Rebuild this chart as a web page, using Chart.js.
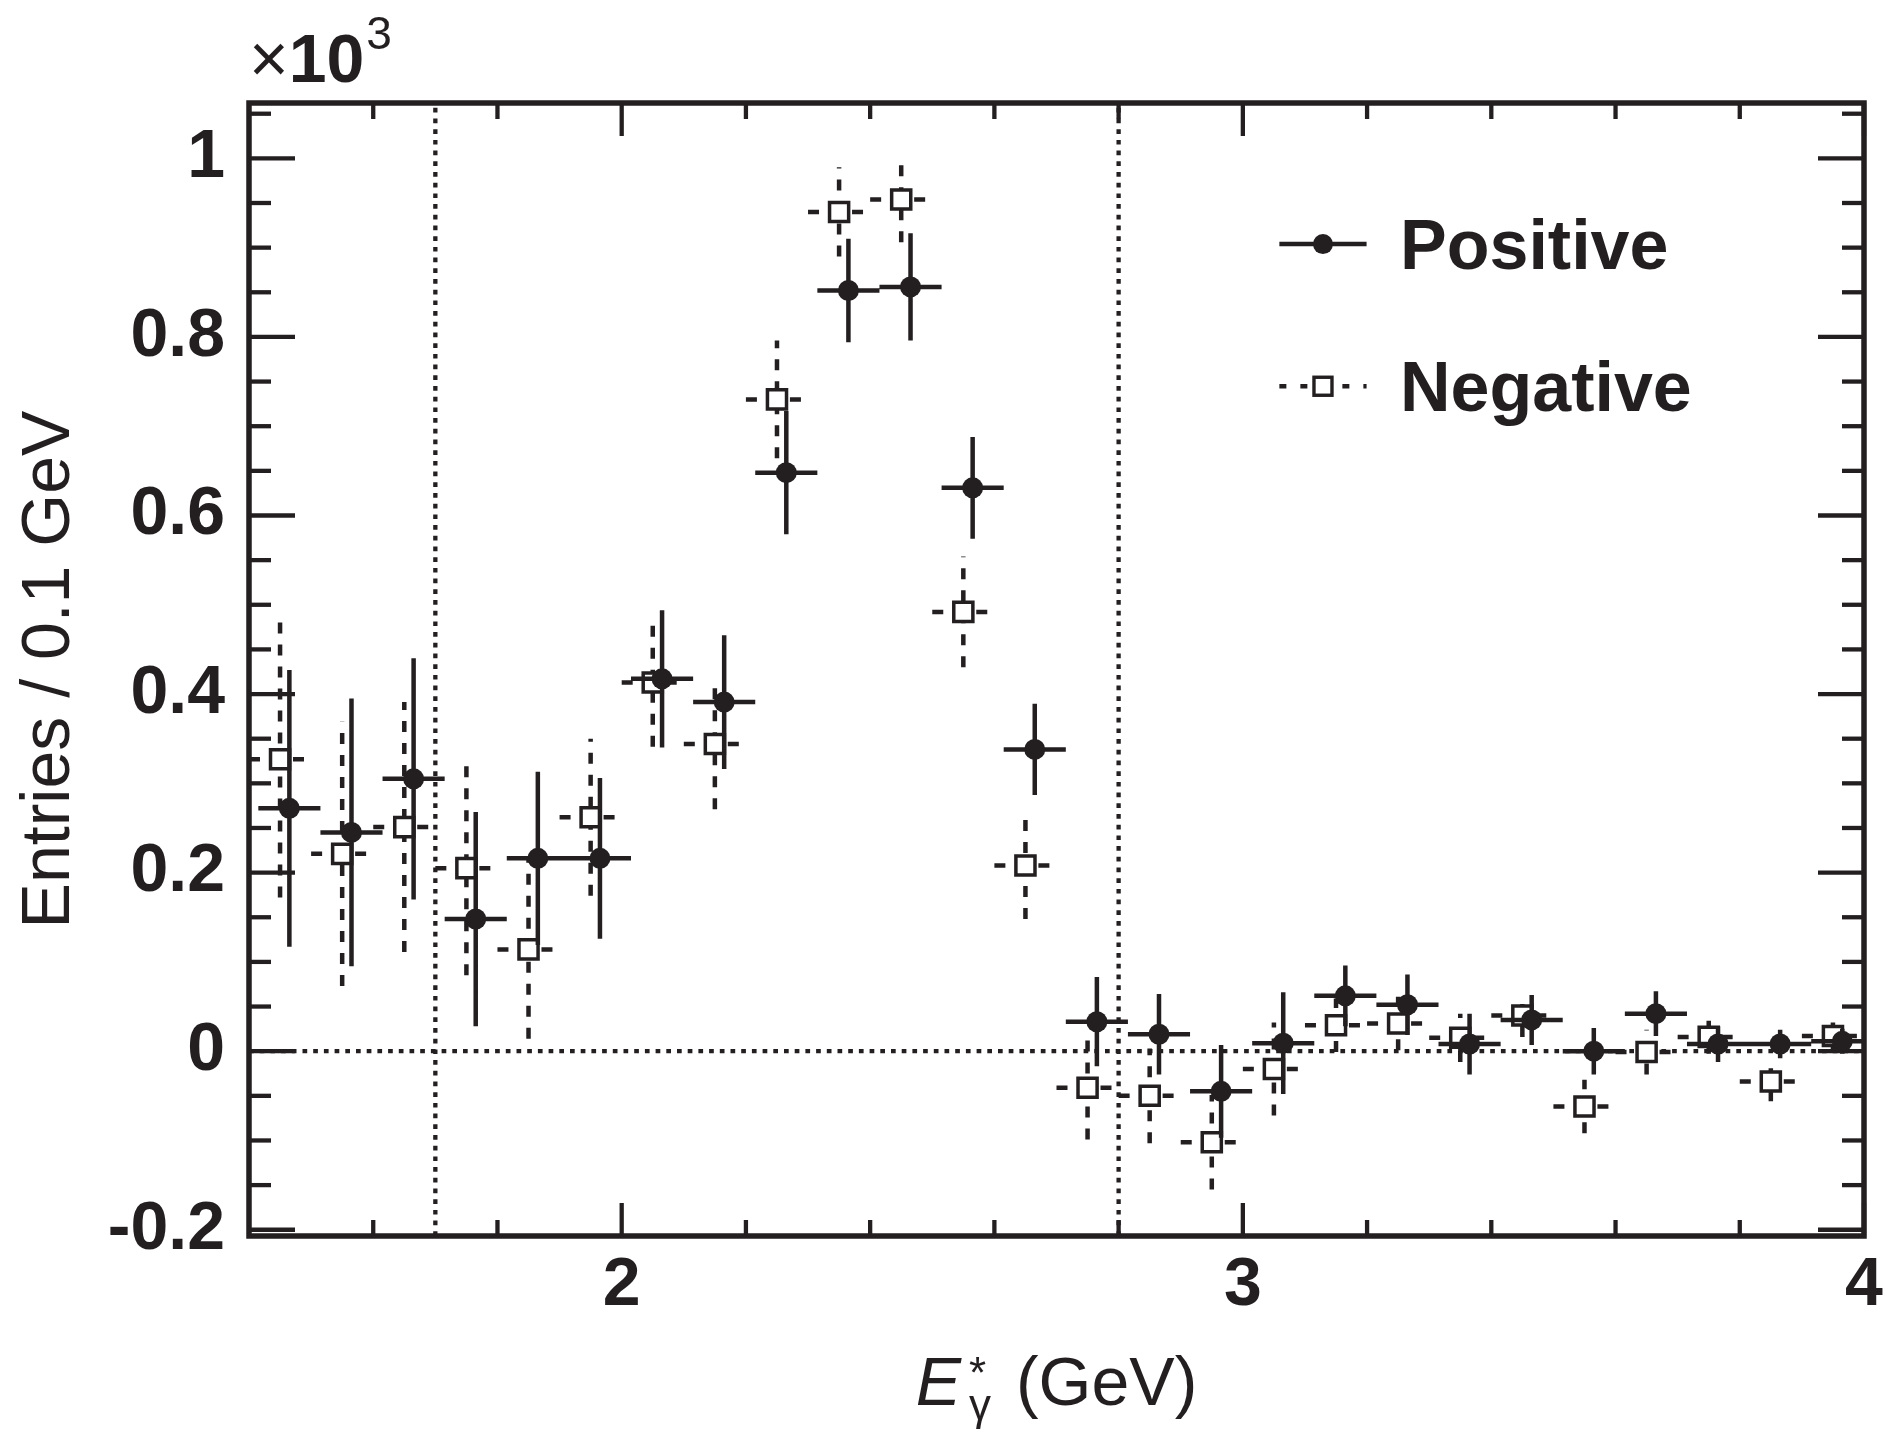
<!DOCTYPE html>
<html>
<head>
<meta charset="utf-8">
<script src="https://cdn.jsdelivr.net/npm/chart.js@4.4.1/dist/chart.umd.min.js"></script>
<style>
html,body{margin:0;padding:0;background:#fff;}
#wrap{width:1885px;height:1437px;position:relative;}
</style>
</head>
<body>
<div id="wrap"><canvas id="c"></canvas></div>
<script>
// ---- data (values in units of 10^3 entries / 0.1 GeV) ----
const binCenters = [1.45,1.55,1.65,1.75,1.85,1.95,2.05,2.15,2.25,2.35,2.45,2.55,2.65,2.75,2.85,2.95,3.05,3.15,3.25,3.35,3.45,3.55,3.65,3.75,3.85,3.95];
const posValues = [0.272,0.245,0.305,0.148,0.216,0.216,0.417,0.391,0.648,0.852,0.856,0.631,0.338,0.033,0.019,-0.045,0.009,0.062,0.052,0.008,0.035,0.000,0.042,0.008,0.008,0.011];
const posErrors = [0.155,0.150,0.135,0.120,0.097,0.090,0.077,0.075,0.069,0.058,0.060,0.057,0.051,0.050,0.045,0.052,0.057,0.034,0.034,0.034,0.028,0.026,0.025,0.020,0.016,0.014];
const negValues = [0.327,0.221,0.251,0.205,0.114,0.262,0.413,0.344,0.730,0.940,0.954,0.492,0.208,-0.041,-0.050,-0.102,-0.020,0.029,0.031,0.015,0.040,-0.062,-0.001,0.016,-0.034,0.017];
const negErrors = [0.155,0.148,0.140,0.120,0.100,0.088,0.072,0.073,0.066,0.050,0.048,0.062,0.060,0.058,0.053,0.053,0.052,0.030,0.030,0.027,0.024,0.030,0.025,0.019,0.022,0.015];
const binHalfWidth = 0.05;
const seriesNames = ['Positive','Negative'];
const xRange = [1.4, 4.0];
const yRange = [-0.207, 1.062];
const xTickValues = [2,3,4];
const xTickLabels = ['2','3','4'];
const xMinorTicks = [1.6,1.8,2.2,2.4,2.6,2.8,3.2,3.4,3.6,3.8];
const yTickValues = [-0.2,0,0.2,0.4,0.6,0.8,1];
const yTickLabels = ['-0.2','0','0.2','0.4','0.6','0.8','1'];
const yMinorTicks = [-0.15,-0.1,-0.05,0.05,0.1,0.15,0.25,0.3,0.35,0.45,0.5,0.55,0.65,0.7,0.75,0.85,0.9,0.95,1.05];
const cutLines = [1.7, 2.8];
const zeroLevel = 0;

// ---- styling ----
const INK = '#231f20';
const FONT = "'Liberation Sans', Arial, Helvetica, sans-serif";
const posShift = 0.015;
const negShift = 0.0;

function vBars(xs, ys, es, shift) {
  const out = [];
  xs.forEach((x, i) => {
    out.push({x: x + shift, y: ys[i] - es[i]});
    out.push({x: x + shift, y: ys[i] + es[i]});
    out.push({x: x + shift, y: null});
  });
  return out;
}
function hBars(xs, ys, shift) {
  const out = [];
  xs.forEach((x, i) => {
    out.push({x: x + shift - binHalfWidth, y: ys[i]});
    out.push({x: x + shift + binHalfWidth, y: ys[i]});
    out.push({x: x + shift + binHalfWidth, y: null});
  });
  return out;
}
function pts(xs, ys, shift) { return xs.map((x, i) => ({x: x + shift, y: ys[i]})); }

const refLines = [];
refLines.push({x: xRange[0], y: zeroLevel}, {x: xRange[1], y: zeroLevel}, {x: xRange[1], y: null});
cutLines.forEach(c => { refLines.push({x: c, y: yRange[0]}, {x: c, y: yRange[1]}, {x: c, y: null}); });

const lineBase = {type: 'line', showLine: true, pointRadius: 0, pointHoverRadius: 0, borderColor: INK, fill: false, spanGaps: false, tension: 0, borderCapStyle: 'butt'};

const datasets = [
  Object.assign({}, lineBase, {label: 'ref', data: refLines, borderWidth: 4.3, borderDash: [4.7, 6], order: 10}),
  Object.assign({}, lineBase, {label: seriesNames[1] + ' err', data: vBars(binCenters, negValues, negErrors, negShift), borderWidth: 4.5, borderDash: [11, 11], order: 8}),
  Object.assign({}, lineBase, {label: seriesNames[1] + ' bin', data: hBars(binCenters, negValues, negShift), borderWidth: 4.5, borderDash: [11, 11], order: 8}),
  {type: 'line', label: seriesNames[1], data: pts(binCenters, negValues, negShift), showLine: false, pointStyle: 'rect', pointRadius: 13.5, pointHoverRadius: 13.5, pointBackgroundColor: '#ffffff', pointBorderColor: INK, pointBorderWidth: 3.5, order: 6},
  Object.assign({}, lineBase, {label: seriesNames[0] + ' err', data: vBars(binCenters, posValues, posErrors, posShift), borderWidth: 4.5, order: 4}),
  Object.assign({}, lineBase, {label: seriesNames[0] + ' bin', data: hBars(binCenters, posValues, posShift), borderWidth: 4.5, order: 4}),
  {type: 'line', label: seriesNames[0], data: pts(binCenters, posValues, posShift), showLine: false, pointStyle: 'circle', pointRadius: 10.5, pointHoverRadius: 10.5, pointBackgroundColor: INK, pointBorderColor: INK, pointBorderWidth: 0, order: 2}
];

function seg(ctx, x1, y1, x2, y2) { ctx.beginPath(); ctx.moveTo(x1, y1); ctx.lineTo(x2, y2); ctx.stroke(); }

const decorPlugin = {
  id: 'decor',
  afterDraw(chart) {
    const {ctx, chartArea: ca, scales: {x, y}} = chart;
    const W = ca.right - ca.left, H = ca.bottom - ca.top;
    ctx.save();
    ctx.strokeStyle = INK; ctx.fillStyle = INK; ctx.lineCap = 'butt';
    // inward ticks on all four sides
    ctx.lineWidth = 4.3;
    yTickValues.forEach(v => { const p = y.getPixelForValue(v); seg(ctx, ca.left, p, ca.left + 46, p); seg(ctx, ca.right, p, ca.right - 46, p); });
    yMinorTicks.forEach(v => { const p = y.getPixelForValue(v); seg(ctx, ca.left, p, ca.left + 22, p); seg(ctx, ca.right, p, ca.right - 22, p); });
    xTickValues.forEach(v => { const p = x.getPixelForValue(v); seg(ctx, p, ca.bottom, p, ca.bottom - 33); seg(ctx, p, ca.top, p, ca.top + 33); });
    xMinorTicks.forEach(v => { const p = x.getPixelForValue(v); seg(ctx, p, ca.bottom, p, ca.bottom - 16); seg(ctx, p, ca.top, p, ca.top + 16); });
    // frame
    ctx.lineWidth = 5.5;
    ctx.strokeRect(ca.left, ca.top, W, H);

    // legend
    const lx1 = ca.left + 0.638 * W, lx2 = ca.left + 0.692 * W, lxm = (lx1 + lx2) / 2, tx = ca.left + 0.7127 * W;
    const ry = [ca.top + 0.1245 * H, ca.top + 0.25 * H];
    ctx.lineWidth = 4.6;
    ctx.setLineDash([]);
    seg(ctx, lx1, ry[0], lx2, ry[0]);
    ctx.beginPath(); ctx.arc(lxm, ry[0], 10, 0, Math.PI * 2); ctx.fill();
    ctx.setLineDash([7, 14]);
    seg(ctx, lx1, ry[1], lx2, ry[1]);
    ctx.setLineDash([]);
    ctx.fillStyle = '#ffffff';
    ctx.fillRect(lxm - 9, ry[1] - 9, 18, 18);
    ctx.lineWidth = 3.4;
    ctx.strokeRect(lxm - 9, ry[1] - 9, 18, 18);
    ctx.fillStyle = INK;
    ctx.font = "bold 70px " + FONT;
    ctx.textAlign = 'left'; ctx.textBaseline = 'alphabetic';
    ctx.fillText(seriesNames[0], tx, ry[0] + 25);
    ctx.fillText(seriesNames[1], tx, ry[1] + 25);

    // x10^3 multiplier
    const mb = ca.top - 21;
    let cx = ca.left;
    ctx.font = "68px " + FONT;
    ctx.fillText('\u00d7', cx, mb);
    cx += ctx.measureText('\u00d7').width;
    ctx.font = "bold 68px " + FONT;
    ctx.fillText('10', cx, mb);
    cx += ctx.measureText('10').width + 2;
    ctx.font = "46px " + FONT;
    ctx.fillText('3', cx, mb - 33);

    // x axis title: E*_gamma (GeV)
    const base = ca.bottom + 169;
    ctx.font = "italic 68px " + FONT;
    const wE = ctx.measureText('E').width;
    ctx.font = "44px " + FONT;
    const wS = Math.max(ctx.measureText('*').width, ctx.measureText('\u03b3').width);
    ctx.font = "68px " + FONT;
    const wR = ctx.measureText(' (GeV)').width;
    const total = wE + 8 + wS + 6 + wR;
    let sx = (ca.left + ca.right) / 2 - total / 2;
    ctx.font = "italic 68px " + FONT;
    ctx.fillText('E', sx, base);
    sx += wE + 8;
    ctx.font = "44px " + FONT;
    ctx.fillText('*', sx, base - 17);
    ctx.fillText('\u03b3', sx, base + 15);
    sx += wS + 6;
    ctx.font = "68px " + FONT;
    ctx.fillText(' (GeV)', sx, base);
    ctx.restore();
  }
};

new Chart(document.getElementById('c'), {
  type: 'line',
  data: {datasets},
  plugins: [decorPlugin],
  options: {
    responsive: true,
    maintainAspectRatio: false,
    animation: false,
    layout: {padding: {left: 0, right: 21, top: 103, bottom: 0}},
    plugins: {legend: {display: false}, tooltip: {enabled: false}},
    scales: {
      x: {
        type: 'linear', min: xRange[0], max: xRange[1],
        grid: {display: false, drawTicks: false}, border: {display: false},
        afterBuildTicks: s => { s.ticks = xTickValues.map(v => ({value: v})); },
        afterFit: s => { s.height = 201; s.paddingLeft = 0; s.paddingRight = 0; },
        ticks: {autoSkip: false, maxRotation: 0, padding: 9, color: INK,
          font: {family: FONT, size: 68, weight: 'bold'},
          callback: (v, i) => xTickLabels[i]}
      },
      y: {
        type: 'linear', min: yRange[0], max: yRange[1],
        grid: {display: false, drawTicks: false}, border: {display: false},
        afterBuildTicks: s => { s.ticks = yTickValues.map(v => ({value: v})); },
        afterFit: s => { s.width = 249; s.paddingTop = 0; s.paddingBottom = 0; },
        ticks: {autoSkip: false, padding: 24, color: INK,
          font: {family: FONT, size: 68, weight: 'bold'},
          callback: (v, i) => yTickLabels[i]},
        title: {display: true, text: 'Entries / 0.1 GeV', color: INK, padding: {top: 9, bottom: 0},
          font: {family: FONT, size: 68, weight: 'normal'}}
      }
    }
  }
});
</script>
</body>
</html>
